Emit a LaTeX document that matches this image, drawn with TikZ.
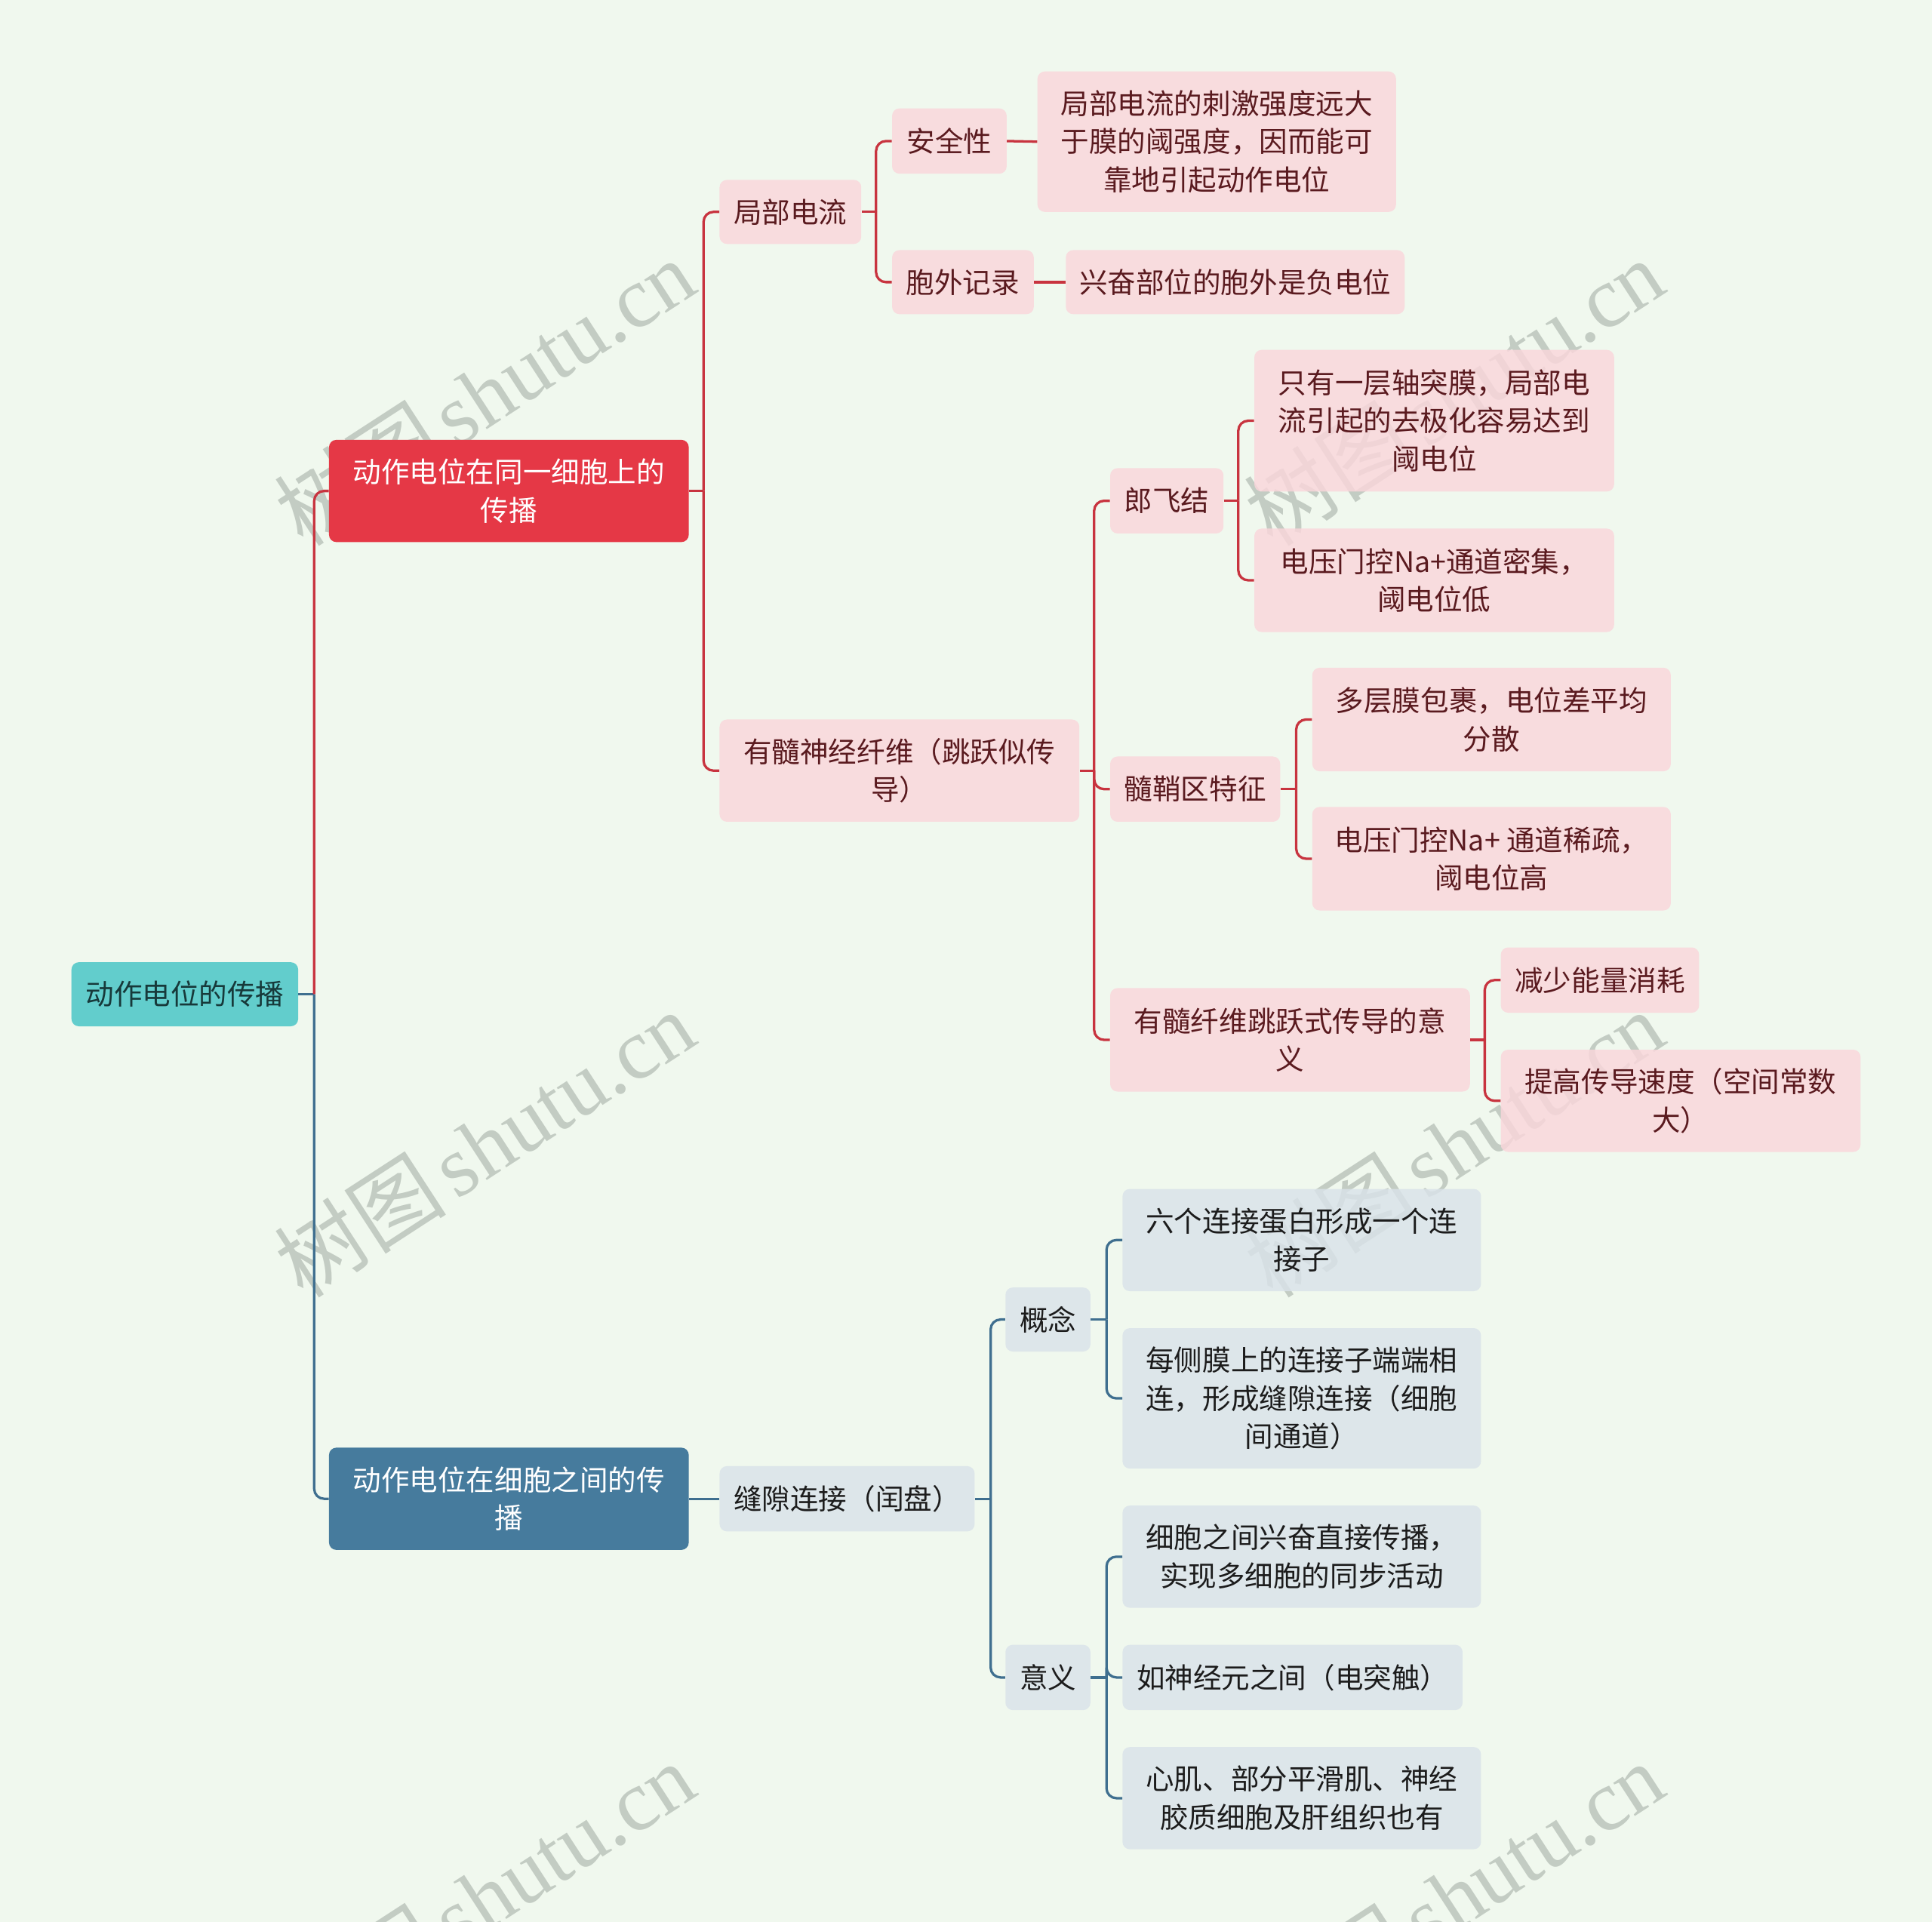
\documentclass[tikz,border=0pt]{standalone}
\usepackage{fontspec}
\setmainfont{Noto Sans CJK SC}
\newfontfamily\wmlatin{Liberation Serif}
\definecolor{bg}{HTML}{F0F8EE}
\definecolor{rootfill}{HTML}{62CDCC}
\definecolor{roottext}{HTML}{17393A}
\definecolor{redmain}{HTML}{E53846}
\definecolor{redline}{HTML}{C8343F}
\definecolor{pinkfill}{HTML}{FAD6DB}
\definecolor{maroon}{HTML}{5A1A1F}
\definecolor{bluemain}{HTML}{467B9D}
\definecolor{blueline}{HTML}{3F6F8F}
\definecolor{bluefill}{HTML}{DAE3EA}
\definecolor{darktext}{HTML}{1C1C1C}
\definecolor{wm}{HTML}{C3CCC3}
\tikzset{
  base/.style={rounded corners=6pt, inner sep=0pt, align=center, font=\fontsize{23}{31}\selectfont},
  sz/.style 2 args={minimum width=#1pt, minimum height=#2pt},
  rootbox/.style={base, fill=rootfill, text=roottext},
  redbox/.style={base, fill=redmain, text=white},
  bluebox/.style={base, fill=bluemain, text=white},
  pk/.style={base, fill=pinkfill, fill opacity=0.82, text opacity=1, text=maroon},
  bl/.style={base, fill=bluefill, fill opacity=0.82, text opacity=1, text=darktext},
  rl/.style={draw=redline, line width=2pt},
  bll/.style={draw=blueline, line width=2pt},
  wmark/.style={rotate=33, text=wm, inner sep=0pt, font=\fontsize{70}{70}\selectfont}
}
\newcommand\stub[3]{\draw[#3] (#1.east) -- (#1.east -| #2);}
\newcommand\branch[4]{\draw[#4, rounded corners=8pt] (#1.east -| #2) |- (#3.west);}
\begin{document}
\begin{tikzpicture}[x=1pt,y=-1pt]
\fill[bg] (0,0) rectangle (1568,1560);
\useasboundingbox (0,0) rectangle (1568,1560);

% watermarks (behind the boxes)
\foreach \cx/\cy [count=\i] in {393/318, 393/928, 393/1538, 1180/318, 1180/928, 1180/1538}
  \node[wmark] (wm\i) at (\cx,\cy) {树图\hspace{0.12em}{\wmlatin shutu.cn}};

% trunk positions
\coordinate (t0) at (255,0);
\coordinate (t1) at (571,0);
\coordinate (t2) at (711,0);
\coordinate (t3) at (888,0);
\coordinate (t4) at (1005,0);
\coordinate (t5) at (1052,0);
\coordinate (t6) at (1205,0);
\coordinate (t7) at (804,0);
\coordinate (t8) at (898,0);

% nodes
\node[rootbox, sz={184}{52}] (root) at (150,807) {动作电位的传播};
\node[redbox, sz={292}{83}] (a) at (413,398.5) {动作电位在同一细胞上的\\传播};
\node[bluebox, sz={292}{83}] (b) at (413,1216.5) {动作电位在细胞之间的传\\播};

\node[pk, sz={115}{52}] (a1) at (641.5,172) {局部电流};
\node[pk, sz={93}{53}] (a11) at (770.5,114.5) {安全性};
\node[pk, sz={291}{114}] (a111) at (987.5,115) {局部电流的刺激强度远大\\于膜的阈强度，因而能可\\靠地引起动作电位};
\node[pk, sz={115}{52}] (a12) at (781.5,229) {胞外记录};
\node[pk, sz={275}{52}] (a121) at (1002.5,229) {兴奋部位的胞外是负电位};

\node[pk, sz={292}{83}] (a2) at (730,625.5) {有髓神经纤维（跳跃似传\\导）};
\node[pk, sz={92}{53}] (a21) at (947,406.5) {郎飞结};
\node[pk, sz={292}{115}] (a211) at (1164,341.5) {只有一层轴突膜，局部电\\流引起的去极化容易达到\\阈电位};
\node[pk, sz={292}{84}] (a212) at (1164,471) {电压门控Na+通道密集，\\阈电位低};
\node[pk, sz={138}{53}] (a22) at (970,640.5) {髓鞘区特征};
\node[pk, sz={291}{84}] (a221) at (1210.5,584) {多层膜包裹，电位差平均\\分散};
\node[pk, sz={291}{84}] (a222) at (1210.5,697) {电压门控Na+ 通道稀疏，\\阈电位高};
\node[pk, sz={292}{84}] (a23) at (1047,844) {有髓纤维跳跃式传导的意\\义};
\node[pk, sz={161}{53}] (a231) at (1298.5,795.5) {减少能量消耗};
\node[pk, sz={292}{83}] (a232) at (1364,893.5) {提高传导速度（空间常数\\大）};

\node[bl, sz={207}{53}] (b1) at (687.5,1216.5) {缝隙连接（闰盘）};
\node[bl, sz={69}{52}] (b11) at (850.5,1071) {概念};
\node[bl, sz={291}{83}] (b111) at (1056.5,1006.5) {六个连接蛋白形成一个连\\接子};
\node[bl, sz={291}{114}] (b112) at (1056.5,1135) {每侧膜上的连接子端端相\\连，形成缝隙连接（细胞\\间通道）};
\node[bl, sz={69}{53}] (b12) at (850.5,1361.5) {意义};
\node[bl, sz={291}{83}] (b121) at (1056.5,1263.5) {细胞之间兴奋直接传播，\\实现多细胞的同步活动};
\node[bl, sz={276}{53}] (b122) at (1049,1361.5) {如神经元之间（电突触）};
\node[bl, sz={291}{83}] (b123) at (1056.5,1459.5) {心肌、部分平滑肌、神经\\胶质细胞及肝组织也有};

% connectors
\stub{root}{t0}{bll}
\branch{root}{t0}{a}{rl}
\branch{root}{t0}{b}{bll}

\stub{a}{t1}{rl}
\branch{a}{t1}{a1}{rl}
\branch{a}{t1}{a2}{rl}

\stub{a1}{t2}{rl}
\branch{a1}{t2}{a11}{rl}
\branch{a1}{t2}{a12}{rl}
\draw[rl] (a11.east) -- (a111.west);
\draw[rl] (a12.east) -- (a121.west);

\stub{a2}{t3}{rl}
\branch{a2}{t3}{a21}{rl}
\branch{a2}{t3}{a22}{rl}
\branch{a2}{t3}{a23}{rl}

\stub{a21}{t4}{rl}
\branch{a21}{t4}{a211}{rl}
\branch{a21}{t4}{a212}{rl}

\stub{a22}{t5}{rl}
\branch{a22}{t5}{a221}{rl}
\branch{a22}{t5}{a222}{rl}

\stub{a23}{t6}{rl}
\branch{a23}{t6}{a231}{rl}
\branch{a23}{t6}{a232}{rl}

\draw[bll] (b.east) -- (b1.west);
\stub{b1}{t7}{bll}
\branch{b1}{t7}{b11}{bll}
\branch{b1}{t7}{b12}{bll}

\stub{b11}{t8}{bll}
\branch{b11}{t8}{b111}{bll}
\branch{b11}{t8}{b112}{bll}

\stub{b12}{t8}{bll}
\branch{b12}{t8}{b121}{bll}
\branch{b12}{t8}{b122}{bll}
\branch{b12}{t8}{b123}{bll}
\end{tikzpicture}
\end{document}
